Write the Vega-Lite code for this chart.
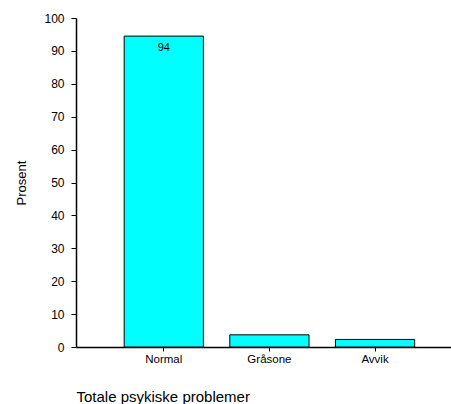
{
  "$schema": "https://vega.github.io/schema/vega-lite/v6.json",
  "width": 375,
  "height": 329,
  "autosize": {"type": "none"},
  "padding": {"left": 76, "top": 18, "right": 0, "bottom": 57},
  "background": "white",
  "config": {
    "view": {"stroke": null},
    "font": "Liberation Sans",
    "axis": {"grid": false, "domainColor": "black", "tickColor": "black", "labelColor": "black", "titleColor": "black", "titleFontWeight": "normal", "labelFont": "Liberation Sans", "titleFont": "Liberation Sans"}
  },
  "data": {
    "values": [
      {"category": "Normal", "prosent": 94.5, "label": "94"},
      {"category": "Gråsone", "prosent": 3.7, "label": null},
      {"category": "Avvik", "prosent": 2.3, "label": null}
    ]
  },
  "encoding": {
    "x": {
      "field": "category",
      "type": "nominal",
      "sort": null,
      "scale": {"paddingInner": 0.25, "paddingOuter": 0.4, "align": 0.57},
      "axis": {
        "title": "Totale psykiske problemer",
        "titleFontSize": 15,
        "titleAnchor": "start",
        "titleAlign": "left",
        "titlePadding": 25,
        "labelAngle": 0,
        "labelFontSize": 11.5,
        "labelPadding": 2,
        "tickSize": 4,
        "domainWidth": 1.5
      }
    },
    "y": {
      "field": "prosent",
      "type": "quantitative",
      "scale": {"domain": [0, 100], "nice": false},
      "axis": {
        "title": "Prosent",
        "titleFontSize": 13,
        "titlePadding": 15,
        "values": [0, 10, 20, 30, 40, 50, 60, 70, 80, 90, 100],
        "labelFontSize": 12,
        "labelPadding": 7,
        "tickSize": 5,
        "domainWidth": 1.5
      }
    }
  },
  "layer": [
    {
      "mark": {"type": "bar", "fill": "#00FFFF", "stroke": "black", "strokeWidth": 1}
    },
    {
      "transform": [{"filter": "isValid(datum.label)"}],
      "mark": {"type": "text", "baseline": "middle", "dy": 12, "fontSize": 11, "color": "black"},
      "encoding": {"text": {"field": "label"}}
    }
  ]
}
